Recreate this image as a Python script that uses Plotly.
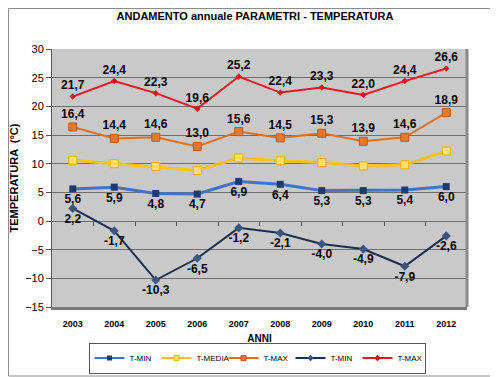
import plotly.graph_objects as go

years = ["2003", "2004", "2005", "2006", "2007", "2008", "2009", "2010", "2011", "2012"]
t_min_avg = [5.6, 5.9, 4.8, 4.7, 6.9, 6.4, 5.3, 5.3, 5.4, 6.0]
t_media = [10.6, 10.0, 9.5, 8.8, 11.0, 10.5, 10.2, 9.6, 9.8, 12.2]
t_max_avg = [16.4, 14.4, 14.6, 13.0, 15.6, 14.5, 15.3, 13.9, 14.6, 18.9]
t_min_abs = [2.2, -1.7, -10.3, -6.5, -1.2, -2.1, -4.0, -4.9, -7.9, -2.6]
t_max_abs = [21.7, 24.4, 22.3, 19.6, 25.2, 22.4, 23.3, 22.0, 24.4, 26.6]

def lab(vals):
    return [f"{v:.1f}".replace(".", ",") for v in vals]

FONT = "Liberation Sans, Arial, sans-serif"
lblfont = dict(family=FONT, size=12, color="black")

series = [
    dict(name="T-MIN", y=t_min_avg, line=dict(color="#3f74c6", width=3),
         marker=dict(symbol="square", size=7, color="#1f3a70"), pos="bottom center"),
    dict(name="T-MEDIA", y=t_media, line=dict(color="#ffc21c", width=3),
         marker=dict(symbol="square", size=8, color="#ffdf70", line=dict(color="#f0b000", width=1)),
         pos=None),
    dict(name="T-MAX", y=t_max_avg, line=dict(color="#e0701c", width=2),
         marker=dict(symbol="square", size=8, color="#e8782a", line=dict(color="#c05810", width=1)),
         pos="top center"),
    dict(name="T-MIN", y=t_min_abs, line=dict(color="#1c2e50", width=2),
         marker=dict(symbol="diamond", size=7, color="#3a5580"), pos="bottom center"),
    dict(name="T-MAX", y=t_max_abs, line=dict(color="#f0141e", width=2),
         marker=dict(symbol="diamond", size=5, color="#e01018"), pos="top center"),
]

fig = go.Figure()
for s in series:
    if s["pos"]:
        fig.add_trace(go.Scatter(x=years, y=s["y"], name=s["name"], mode="lines+markers+text",
                                 line=s["line"], marker=s["marker"],
                                 text=lab(s["y"]), texttemplate="<b>%{text}</b>",
                                 textposition=s["pos"], textfont=lblfont, showlegend=False))
    else:
        fig.add_trace(go.Scatter(x=years, y=s["y"], name=s["name"], mode="lines+markers",
                                 line=s["line"], marker=s["marker"], showlegend=False))
# legend entries with small symbols
for s in series:
    m = dict(s["marker"])
    m["size"] = 5
    fig.add_trace(go.Scatter(x=[None], y=[None], name=s["name"], mode="lines+markers",
                             line=dict(color=s["line"]["color"], width=2), marker=m))
# invisible trace to draw tick marks on the zero line
fig.add_trace(go.Scatter(x=years, y=[None]*len(years), xaxis="x2", showlegend=False,
                         hoverinfo="skip"))

fig.update_layout(
    width=490, height=369,
    margin=dict(l=44, r=31, t=41, b=70, autoexpand=False),
    paper_bgcolor="white",
    plot_bgcolor="#c9c9c9",
    font=dict(family=FONT, size=11, color="black"),
    title=dict(text="<b>ANDAMENTO annuale PARAMETRI - TEMPERATURA</b>",
               x=(255 - 8) / 490, xanchor="center", y=1 - 8 / 369, yanchor="middle",
               font=dict(size=11, family=FONT)),
    xaxis=dict(type="category", range=[-0.5, 9.5], showgrid=False,
               ticks="", tickfont=dict(size=9, family=FONT, weight="bold"),
               ticklabelstandoff=6,
               showline=True, linecolor="#7a7a7a", linewidth=3, mirror=False,
               title=dict(text="<b>ANNI</b>", font=dict(size=10), standoff=8)),
    xaxis2=dict(type="category", range=[-0.5, 9.5], overlaying="x", anchor="free",
                position=15/45, showgrid=False, showticklabels=False,
                tickvals=[0.5, 1.5, 2.5, 3.5, 4.5, 5.5, 6.5, 7.5, 8.5],
                ticks="outside", ticklen=4, tickcolor="#555555", showline=False),
    yaxis=dict(range=[-15, 30], dtick=5, showgrid=True, gridcolor="#6e6e6e",
               gridwidth=1, zeroline=False, ticks="outside", ticklen=5,
               tickcolor="#555555", showline=True, linecolor="#555555",
               tickfont=dict(size=11),
               title=dict(text="<b>TEMPERATURA  (°C)</b>", font=dict(size=11), standoff=10)),
    legend=dict(orientation="h", x=(257 - 52) / 415, xanchor="center", y=-0.138, yanchor="top",
                bordercolor="#555555", borderwidth=1, bgcolor="white",
                font=dict(size=8), entrywidth=22, itemwidth=30,
                tracegroupgap=0),
    showlegend=True,
)
# outer chart border
fig.add_shape(type="rect", xref="paper", yref="paper", x0=-44/415 + 0.5/415, x1=1 + 30/415,
              y0=-69/258, y1=1 + 41/258 - 0.5/258, line=dict(color="#8c8c8c", width=1),
              fillcolor="rgba(0,0,0,0)", layer="below")
# right wall edge
fig.add_shape(type="line", xref="paper", yref="paper", x0=1, x1=1, y0=0, y1=1,
              line=dict(color="#8a8a8a", width=3))

fig.write_html("out.html")
